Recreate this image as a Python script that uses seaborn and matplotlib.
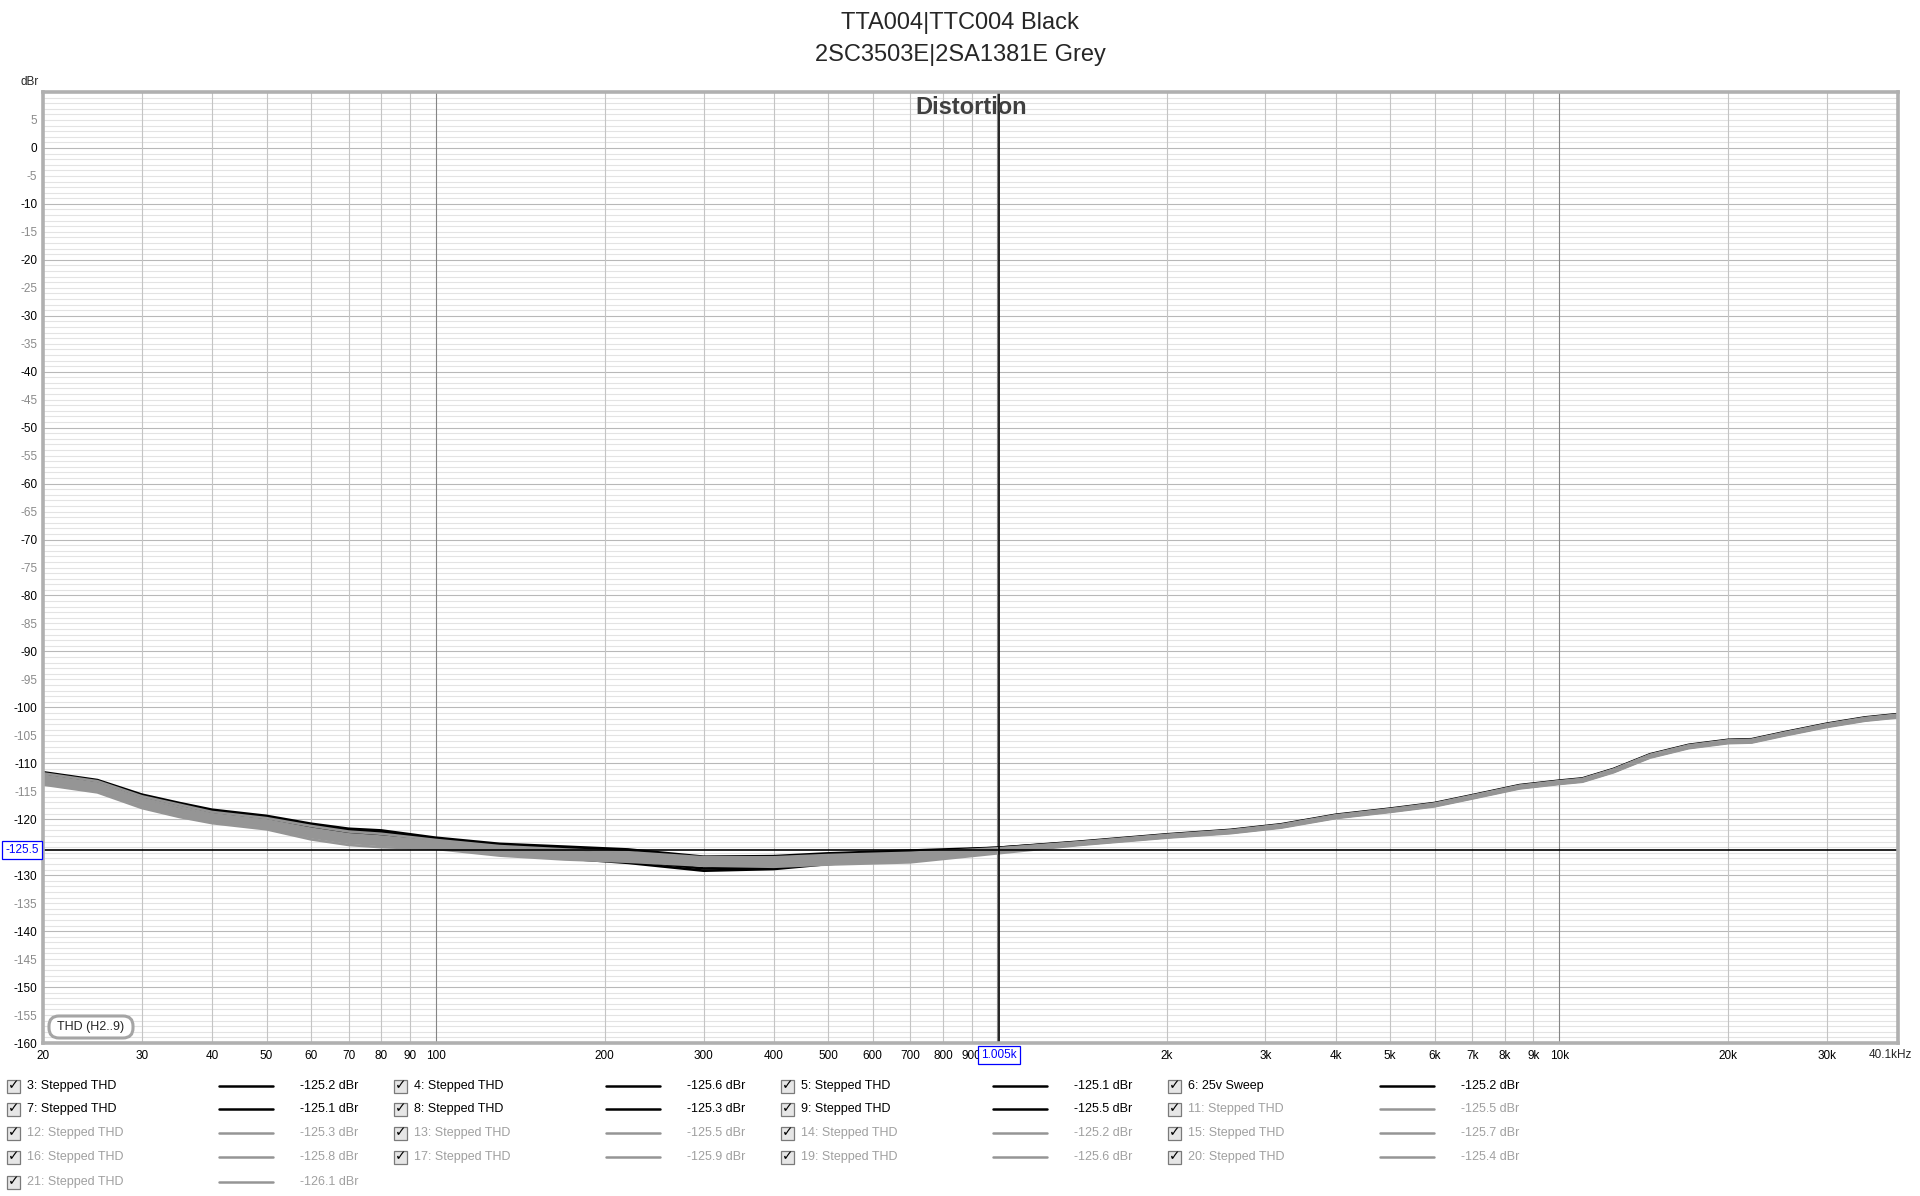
import numpy as np
import pandas as pd
import matplotlib
matplotlib.use("Agg")
import matplotlib.pyplot as plt
import seaborn as sns
from matplotlib.patches import Rectangle, FancyBboxPatch
from matplotlib.lines import Line2D
from matplotlib.transforms import IdentityTransform

# ---------------- data ----------------
freq_hz = [20, 25, 30, 35, 40, 50, 60, 70, 80, 100, 130, 170, 220, 300, 400, 500, 700, 1000,
           1400, 2000, 2600, 3200, 4000, 5000, 6000, 7000, 8500, 10000, 11000, 12500, 14500,
           17000, 20000, 22000, 25000, 30000, 35000, 40100]

thd_03 = [-112.1, -113.5, -116.2, -117.7, -118.9, -120.0, -121.3, -122.2, -122.5, -123.7, -124.9, -125.5, -126.1, -127.4, -127.3, -126.7, -126.1, -125.2,
          -124.2, -122.9, -122.1, -121.1, -119.4, -118.3, -117.3, -115.9, -114.1, -113.3, -112.9, -111.2, -108.6, -106.9, -106.0, -105.9, -104.7, -103.1, -102.0, -101.4]
thd_04 = [-113.4, -114.8, -117.6, -119.2, -120.4, -121.3, -122.6, -123.3, -123.8, -124.6, -126.2, -127.0, -127.8, -129.2, -128.9, -128.0, -127.3, -125.6,
          -124.4, -123.1, -122.3, -121.3, -119.6, -118.5, -117.5, -116.1, -114.3, -113.5, -113.1, -111.4, -108.8, -107.1, -106.2, -106.1, -104.9, -103.3, -102.2, -101.6]
thd_05 = [-111.6, -113.0, -115.6, -117.1, -118.3, -119.4, -120.8, -121.7, -122.0, -123.3, -124.4, -124.9, -125.4, -126.7, -126.6, -126.1, -125.6, -125.1,
          -124.0, -122.7, -121.9, -120.9, -119.2, -118.1, -117.1, -115.7, -113.9, -113.1, -112.7, -111.0, -108.4, -106.7, -105.8, -105.7, -104.5, -102.9, -101.8, -101.2]
sweep_06 = [-112.5, -113.9, -116.6, -118.2, -119.4, -120.4, -121.7, -122.5, -122.9, -124.0, -125.3, -126.0, -126.6, -127.9, -127.8, -127.1, -126.5, -125.2,
            -124.2, -122.9, -122.1, -121.1, -119.4, -118.3, -117.3, -115.9, -114.1, -113.3, -112.9, -111.2, -108.6, -106.9, -106.0, -105.9, -104.7, -103.1, -102.0, -101.4]
thd_07 = [-111.9, -113.3, -115.9, -117.4, -118.6, -119.7, -121.1, -121.9, -122.3, -123.5, -124.7, -125.2, -125.8, -127.0, -127.0, -126.4, -125.9, -125.1,
          -124.1, -122.8, -122.0, -121.0, -119.3, -118.2, -117.2, -115.8, -114.0, -113.2, -112.8, -111.1, -108.5, -106.8, -105.9, -105.8, -104.6, -103.0, -101.9, -101.3]
thd_08 = [-112.7, -114.1, -116.8, -118.4, -119.6, -120.5, -121.9, -122.7, -123.1, -124.1, -125.5, -126.2, -126.8, -128.2, -128.0, -127.2, -126.6, -125.3,
          -124.3, -123.0, -122.2, -121.2, -119.5, -118.4, -117.4, -116.0, -114.2, -113.4, -113.0, -111.3, -108.7, -107.0, -106.1, -106.0, -104.8, -103.2, -102.1, -101.5]
thd_09 = [-113.1, -114.5, -117.3, -118.9, -120.1, -121.0, -122.3, -123.1, -123.5, -124.4, -125.9, -126.7, -127.4, -128.8, -128.6, -127.7, -127.1, -125.5,
          -124.4, -123.1, -122.3, -121.3, -119.6, -118.5, -117.5, -116.1, -114.3, -113.5, -113.1, -111.4, -108.8, -107.1, -106.2, -106.1, -104.9, -103.3, -102.2, -101.6]
thd_11 = [-112.8, -114.2, -117.0, -118.5, -119.7, -120.8, -122.4, -123.4, -123.8, -124.5, -125.7, -126.3, -126.8, -127.6, -127.7, -127.3, -126.9, -125.5,
          -124.3, -123.0, -122.2, -121.2, -119.5, -118.4, -117.4, -116.0, -114.2, -113.4, -113.0, -111.3, -108.7, -107.0, -106.1, -106.0, -104.8, -103.2, -102.1, -101.5]
thd_12 = [-112.2, -113.6, -116.3, -117.8, -119.1, -120.2, -121.7, -122.7, -123.1, -124.0, -125.1, -125.8, -126.2, -127.1, -127.1, -126.7, -126.3, -125.3,
          -124.2, -122.9, -122.1, -121.1, -119.4, -118.3, -117.3, -115.9, -114.1, -113.3, -112.9, -111.2, -108.6, -106.9, -106.0, -105.9, -104.7, -103.1, -102.0, -101.4]
thd_13 = [-112.7, -114.1, -116.9, -118.4, -119.6, -120.7, -122.3, -123.3, -123.7, -124.4, -125.6, -126.2, -126.7, -127.5, -127.6, -127.2, -126.8, -125.5,
          -124.3, -123.0, -122.2, -121.2, -119.5, -118.4, -117.4, -116.0, -114.2, -113.4, -113.0, -111.3, -108.7, -107.0, -106.1, -106.0, -104.8, -103.2, -102.1, -101.5]
thd_14 = [-111.8, -113.2, -115.9, -117.4, -118.7, -119.8, -121.2, -122.2, -122.6, -123.7, -124.8, -125.4, -125.9, -126.8, -126.8, -126.4, -126.0, -125.2,
          -124.1, -122.8, -122.0, -121.0, -119.3, -118.2, -117.2, -115.8, -114.0, -113.2, -112.8, -111.1, -108.5, -106.8, -105.9, -105.8, -104.6, -103.0, -101.9, -101.3]
thd_15 = [-113.1, -114.5, -117.3, -118.8, -120.0, -121.1, -122.8, -123.8, -124.2, -124.7, -125.9, -126.6, -127.0, -127.8, -127.9, -127.5, -127.1, -125.7,
          -124.4, -123.1, -122.3, -121.3, -119.6, -118.5, -117.5, -116.1, -114.3, -113.5, -113.1, -111.4, -108.8, -107.1, -106.2, -106.1, -104.9, -103.3, -102.2, -101.6]
thd_16 = [-113.3, -114.7, -117.5, -119.1, -120.2, -121.3, -123.0, -124.0, -124.4, -124.9, -126.1, -126.8, -127.2, -127.9, -128.1, -127.7, -127.3, -125.8,
          -124.5, -123.2, -122.4, -121.4, -119.7, -118.6, -117.6, -116.2, -114.4, -113.6, -113.2, -111.5, -108.9, -107.2, -106.3, -106.2, -105.0, -103.4, -102.3, -101.7]
thd_17 = [-113.5, -114.9, -117.7, -119.3, -120.4, -121.5, -123.2, -124.2, -124.6, -125.1, -126.3, -126.9, -127.4, -128.1, -128.3, -127.9, -127.5, -125.9,
          -124.5, -123.2, -122.4, -121.4, -119.7, -118.6, -117.6, -116.2, -114.4, -113.6, -113.2, -111.5, -108.9, -107.2, -106.3, -106.2, -105.0, -103.4, -102.3, -101.7]
thd_19 = [-113.0, -114.4, -117.2, -118.7, -119.9, -121.0, -122.6, -123.6, -124.0, -124.7, -125.8, -126.5, -126.9, -127.7, -127.8, -127.4, -127.0, -125.6,
          -124.4, -123.1, -122.3, -121.3, -119.6, -118.5, -117.5, -116.1, -114.3, -113.5, -113.1, -111.4, -108.8, -107.1, -106.2, -106.1, -104.9, -103.3, -102.2, -101.6]
thd_20 = [-112.5, -113.9, -116.6, -118.2, -119.4, -120.5, -122.0, -123.0, -123.4, -124.3, -125.4, -126.0, -126.5, -127.3, -127.4, -127.0, -126.6, -125.4,
          -124.2, -122.9, -122.1, -121.1, -119.4, -118.3, -117.3, -115.9, -114.1, -113.3, -112.9, -111.2, -108.6, -106.9, -106.0, -105.9, -104.7, -103.1, -102.0, -101.4]
thd_21 = [-113.8, -115.2, -118.0, -119.6, -120.7, -121.8, -123.6, -124.6, -125.0, -125.3, -126.5, -127.2, -127.6, -128.3, -128.5, -128.1, -127.7, -126.1,
          -124.6, -123.3, -122.5, -121.5, -119.8, -118.7, -117.7, -116.3, -114.5, -113.7, -113.3, -111.6, -109.0, -107.3, -106.4, -106.3, -105.1, -103.5, -102.4, -101.8]

trace_names = ["3: Stepped THD", "4: Stepped THD", "5: Stepped THD", "6: 25v Sweep",
               "7: Stepped THD", "8: Stepped THD", "9: Stepped THD", "11: Stepped THD",
               "12: Stepped THD", "13: Stepped THD", "14: Stepped THD", "15: Stepped THD",
               "16: Stepped THD", "17: Stepped THD", "19: Stepped THD", "20: Stepped THD",
               "21: Stepped THD"]
trace_values = [thd_03, thd_04, thd_05, sweep_06, thd_07, thd_08, thd_09, thd_11,
                thd_12, thd_13, thd_14, thd_15, thd_16, thd_17, thd_19, thd_20, thd_21]
trace_group = ["black"] * 7 + ["grey"] * 10
cursor_readings = ["-125.2 dBr", "-125.6 dBr", "-125.1 dBr", "-125.2 dBr",
                   "-125.1 dBr", "-125.3 dBr", "-125.5 dBr", "-125.5 dBr",
                   "-125.3 dBr", "-125.5 dBr", "-125.2 dBr", "-125.7 dBr",
                   "-125.8 dBr", "-125.9 dBr", "-125.6 dBr", "-125.4 dBr",
                   "-126.1 dBr"]
legend_order = ["3: Stepped THD", "4: Stepped THD", "5: Stepped THD", "6: 25v Sweep",
                "7: Stepped THD", "8: Stepped THD", "9: Stepped THD", "11: Stepped THD",
                "12: Stepped THD", "13: Stepped THD", "14: Stepped THD", "15: Stepped THD",
                "16: Stepped THD", "17: Stepped THD", "19: Stepped THD", "20: Stepped THD",
                "21: Stepped THD"]

x_decade_ticks = [100, 1000, 10000]
x_decade_labels = ["100", "", "10k"]
x_minor_ticks = [20, 30, 40, 50, 60, 70, 80, 90, 200, 300, 400, 500, 600, 700, 800, 900,
                 2000, 3000, 4000, 5000, 6000, 7000, 8000, 9000, 20000, 30000]
x_minor_labels = ["20", "30", "40", "50", "60", "70", "80", "90", "200", "300", "400", "500",
                  "600", "700", "800", "900", "2k", "3k", "4k", "5k", "6k", "7k", "8k", "9k",
                  "20k", "30k"]
cursor_freq = 1005
cursor_level = -125.5

# ---------------- style ----------------
W, H = 1920, 1196
BLACK_C = "#000000"
GREY_C = "#959595"

sns.set_theme(style="white")
plt.rcParams['font.family'] = ['Liberation Sans', 'DejaVu Sans']

fig = plt.figure(figsize=(W / 100, H / 100), dpi=100)
fig.patch.set_facecolor("white")

def fx(x):
    return x / W

def fy(y):
    return 1 - y / H

ax_l, ax_r, ax_t, ax_b = 43, 1898, 92, 1043
ax = fig.add_axes([fx(ax_l), fy(ax_b), (ax_r - ax_l) / W, (ax_b - ax_t) / H])
ax.set_facecolor("white")

rows = []
for name, vals, grp in zip(trace_names, trace_values, trace_group):
    for f, v in zip(freq_hz, vals):
        rows.append((f, v, name, grp))
df = pd.DataFrame(rows, columns=["freq", "dbr", "trace", "group"])
palette = {n: (BLACK_C if g == "black" else GREY_C) for n, g in zip(trace_names, trace_group)}

sns.lineplot(data=df, x="freq", y="dbr", hue="trace", hue_order=trace_names,
             palette=palette, estimator=None, sort=False, legend=False,
             linewidth=1.9, ax=ax, zorder=3)

ax.set_xscale("log")
ax.set_xlim(20, 40100)
ax.set_ylim(-160, 10)
ax.set_xlabel("")
ax.set_ylabel("")

ax.set_xticks(x_decade_ticks, labels=x_decade_labels)
ax.set_xticks(x_minor_ticks, labels=x_minor_labels, minor=True)

y_major = list(range(-160, 1, 10))
y_minor = [v for v in range(-160, 11) if v % 10 != 0]
y_minor_labels = [(str(v) if (v % 5 == 0 and v != -125) else "") for v in y_minor]
ax.set_yticks(y_major, labels=[str(v) for v in y_major])
ax.set_yticks(y_minor, labels=y_minor_labels, minor=True)

ax.tick_params(axis="x", which="both", length=0, pad=5, labelsize=8.5, labelcolor="black")
ax.tick_params(axis="y", which="both", length=0, pad=4, labelsize=8.5)
ax.tick_params(axis="y", which="major", labelcolor="black")
ax.tick_params(axis="y", which="minor", labelcolor="#8a8a8a")

ax.set_axisbelow(True)
ax.grid(which="minor", axis="y", color="#e3e3e3", linewidth=0.8)
ax.grid(which="major", axis="y", color="#b8b8b8", linewidth=0.8)
ax.grid(which="minor", axis="x", color="#c4c4c4", linewidth=0.8)
ax.grid(which="major", axis="x", color="#858585", linewidth=0.8)
# vertical grid drawn over horizontal grid
ax.yaxis.set_zorder(0.4)
ax.xaxis.set_zorder(0.6)

for s in ax.spines.values():
    s.set_color("#b0b0b0")
    s.set_linewidth(2.6)
    s.set_zorder(5)

ax.axvline(cursor_freq, color="black", linewidth=1.2, zorder=4)
ax.axhline(cursor_level, color="black", linewidth=1.2, zorder=4)

# ---------------- texts ----------------
fig.text(fx(960), fy(23), "TTA004|TTC004 Black", ha="center", va="center", fontsize=17)
fig.text(fx(960), fy(55), "2SC3503E|2SA1381E Grey", ha="center", va="center", fontsize=17)
fig.text(fx(971), fy(108), "Distortion", ha="center", va="center", fontsize=17,
         fontweight="bold", color="#404040")
fig.text(fx(30), fy(82), "dBr", ha="center", va="center", fontsize=8.5)
fig.text(fx(1890), fy(1055), "40.1kHz", ha="center", va="center", fontsize=8.5)

# cursor readouts
fig.text(fx(22), fy(850), "-125.5", ha="center", va="center", fontsize=8.5, color="#0000ff",
         bbox=dict(boxstyle="square,pad=0.25", fc="white", ec="#0000ff", lw=0.9), zorder=10)
fig.text(fx(999), fy(1055), "1.005k", ha="center", va="center", fontsize=8.5, color="#0000ff",
         bbox=dict(boxstyle="square,pad=0.25", fc="white", ec="#0000ff", lw=0.9), zorder=10)

# THD label box
ident = IdentityTransform()
thd_box = FancyBboxPatch((49, H - 1038), 84, 22, boxstyle="round,pad=0,rounding_size=10",
                         transform=ident, fc="white", ec="#a5a5a5", lw=2.2, zorder=10)
fig.add_artist(thd_box)
fig.text(fx(91), fy(1027), "THD (H2..9)", ha="center", va="center", fontsize=9, zorder=11)

# ---------------- legend ----------------
rows_y = [1086, 1109, 1133, 1157, 1182]
cols_x0 = [7, 394, 781, 1168]
for i, name in enumerate(legend_order):
    k = trace_names.index(name)
    grp = trace_group[k]
    r, c = divmod(i, 4)
    y = rows_y[r]
    x0 = cols_x0[c]
    txt_c = "black" if grp == "black" else "#a0a0a0"
    ln_c = BLACK_C if grp == "black" else GREY_C
    box = Rectangle((x0, H - y - 7), 13, 13, transform=ident, fc="#e6e6e6", ec="#7a7a7a",
                    lw=0.9, zorder=10)
    fig.add_artist(box)
    fig.text(fx(x0 + 7), fy(y - 1), "\u2713", ha="center", va="center", fontsize=10,
             fontweight="bold", family=["DejaVu Sans"], color="black", zorder=11)
    fig.text(fx(x0 + 20), fy(y), name, ha="left", va="center", fontsize=9, color=txt_c)
    fig.add_artist(Line2D([x0 + 212, x0 + 266], [H - y, H - y], transform=ident,
                          color=ln_c, lw=1.8))
    fig.text(fx(x0 + 293), fy(y), cursor_readings[k], ha="left", va="center", fontsize=9,
             color=txt_c)

fig.savefig("out.png", dpi=100)
